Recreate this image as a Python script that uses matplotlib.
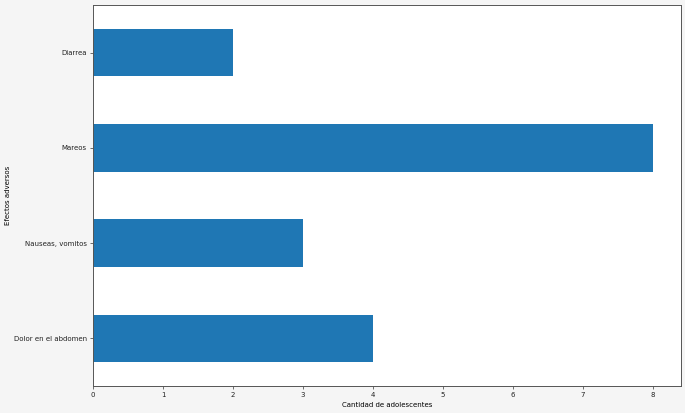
import matplotlib
matplotlib.use("Agg")
import matplotlib.pyplot as plt
import numpy as np

# datos
efectos = ["Dolor en el abdomen", "Nauseas, vomitos", "Mareos", "Diarrea"]
cantidad = [4, 3, 8, 2]

plt.rcParams['font.size'] = 5.0

fig = plt.figure(figsize=(6.85, 4.13), dpi=100)
fig.patch.set_facecolor('#f5f5f5')
ax = fig.add_axes([93 / 685, 1 - 386 / 413, (681 - 93) / 685, (386 - 5) / 413])
ax.set_facecolor('white')

pos = np.arange(len(efectos))
ax.barh(pos, cantidad, height=0.5, color='#1f77b4')
ax.set_yticks(pos)
ax.set_yticklabels(efectos)
ax.set_xlim(0, max(cantidad) * 1.05)
ax.set_ylim(-0.5, len(efectos) - 0.5)

ax.set_xlabel("Cantidad de adolescentes", labelpad=3)
ax.set_ylabel("Efectos adversos")
ax.yaxis.set_label_coords((11 - 93) / 588, 0.5)

for s in ax.spines.values():
    s.set_color('#555555')
    s.set_linewidth(0.7)
ax.tick_params(colors='#555555', labelcolor='#222222', length=2.5, width=0.6, pad=2)

plt.savefig("out.png", dpi=100, facecolor=fig.get_facecolor())
